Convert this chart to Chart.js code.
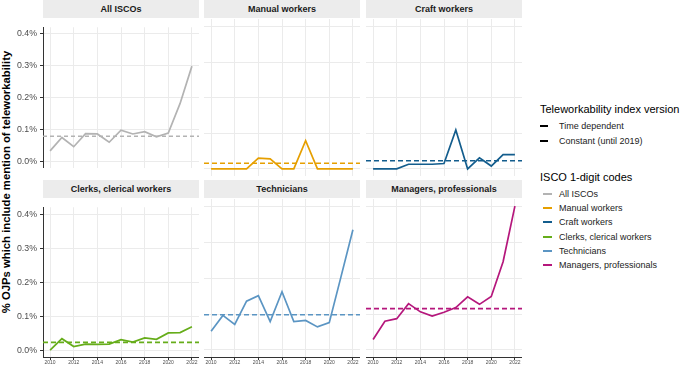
<!DOCTYPE html>
<html>
<head>
<meta charset="utf-8">
<script src="https://cdn.jsdelivr.net/npm/chart.js@4/dist/chart.umd.min.js"></script>
<style>
  body { margin: 0; width: 685px; height: 367px; position: relative; background: #fff; overflow: hidden;
         font-family: "Liberation Sans", Arial, sans-serif; }
  .box { position: absolute; }
  .strip { position: absolute; background: #ececec; color: #1a1a1a; font-weight: bold; font-size: 9px;
           text-align: center; height: 18px; line-height: 18px; white-space: nowrap; }
  #ytitle { position: absolute; left: 6px; top: 182px; transform: translate(-50%, -50%) rotate(-90deg);
            font-weight: bold; font-size: 11.3px; color: #000; white-space: nowrap; }
  .lt { position: absolute; left: 540px; font-size: 11px; color: #000; white-space: nowrap; line-height: 12px; }
  .li { position: absolute; left: 559px; font-size: 9px; color: #222; white-space: nowrap; line-height: 10px; }
  .key { position: absolute; height: 0; }
</style>
</head>
<body>
<div id="ytitle">% OJPs which include mention of teleworkability</div>

<script>
// data (% of OJPs)
var years = [2010, 2011, 2012, 2013, 2014, 2015, 2016, 2017, 2018, 2019, 2020, 2021, 2022];
var groups = ['All ISCOs', 'Manual workers', 'Craft workers', 'Clerks, clerical workers', 'Technicians', 'Managers, professionals'];
var colors = ['#b3b3b3', '#e69f00', '#135d8d', '#66ad1a', '#5b95c3', '#b5177c'];

var allIscos   = [0.033, 0.075, 0.046, 0.087, 0.086, 0.060, 0.098, 0.086, 0.093, 0.077, 0.089, 0.182, 0.299];
var manual     = [0, 0, 0, 0, 0.030, 0.028, 0, 0, 0.079, 0, 0, 0, 0];
var craft      = [0, 0, 0, 0.013, 0.013, 0.013, 0.015, 0.109, 0, 0.031, 0.008, 0.040, 0.040];
var clerks     = [0, 0.034, 0.011, 0.018, 0.017, 0.018, 0.031, 0.024, 0.036, 0.032, 0.051, 0.052, 0.069];
var technicians = [0.052, 0.096, 0.071, 0.136, 0.151, 0.079, 0.162, 0.079, 0.082, 0.064, 0.076, 0.205, 0.335];
var managers   = [0.029, 0.080, 0.087, 0.129, 0.106, 0.094, 0.105, 0.118, 0.148, 0.127, 0.149, 0.246, 0.401];
var series = [allIscos, manual, craft, clerks, technicians, managers];

// constant index (until 2019) levels
var constants = [0.079, 0.016, 0.023, 0.023, 0.098, 0.115];

var xTicks = [2010, 2012, 2014, 2016, 2018, 2020, 2022];
var yTicks = [0, 0.1, 0.2, 0.3, 0.4];
var xMin = 2009.4, xMax = 2022.6;
var yMin = -0.02, yMax = 0.421;

// panel geometry
var colLeft = [43, 204, 366];
var plotW = 156;
var rowTop = [19, 199];
var rowH = [157, 158];

groups.forEach(function(name, i) {
  var r = Math.floor(i / 3), c = i % 3;
  var left = c === 0 ? 0 : colLeft[c];
  var w = colLeft[c] + plotW - left;
  var h = rowH[r] + (r === 1 ? 10 : 0);

  var strip = document.createElement('div');
  strip.className = 'strip';
  strip.style.left = colLeft[c] + 'px';
  strip.style.top = (rowTop[r] - 19) + 'px';
  strip.style.width = plotW + 'px';
  strip.textContent = name;
  document.body.appendChild(strip);

  var box = document.createElement('div');
  box.className = 'box';
  box.style.left = left + 'px';
  box.style.top = rowTop[r] + 'px';
  box.style.width = w + 'px';
  box.style.height = h + 'px';
  var cv = document.createElement('canvas');
  box.appendChild(cv);
  document.body.appendChild(box);

  var vals = series[i];
  new Chart(cv.getContext('2d'), {
    type: 'line',
    data: {
      datasets: [{
        data: years.map(function(y, k) { return { x: y, y: vals[k] }; }),
        borderColor: colors[i],
        borderWidth: 1.7,
        pointRadius: 0,
        tension: 0
      }, {
        data: [{ x: xMin, y: constants[i] }, { x: xMax, y: constants[i] }],
        borderColor: colors[i],
        borderWidth: 1.6,
        borderDash: i === 0 ? [4, 3] : [5, 3],
        pointRadius: 0
      }]
    },
    options: {
      responsive: true,
      maintainAspectRatio: false,
      animation: false,
      layout: { padding: 0 },
      plugins: { legend: { display: false }, tooltip: { enabled: false } },
      scales: {
        x: {
          type: 'linear', min: xMin, max: xMax,
          afterBuildTicks: function(s) { s.ticks = xTicks.map(function(v) { return { value: v }; }); },
          afterFit: function(s) { s.height = r === 1 ? 10 : 0; },
          grid: { color: '#ebebeb', lineWidth: 1, drawTicks: r === 1, tickLength: 3, tickColor: '#333' },
          border: { display: r === 1, color: '#333', width: 1 },
          ticks: { display: r === 1, autoSkip: false, maxRotation: 0, padding: 0,
                   color: '#4d4d4d', font: { size: 5, family: 'Liberation Sans' },
                   callback: function(v) { return String(v); } }
        },
        y: {
          type: 'linear', min: yMin, max: yMax,
          afterBuildTicks: function(s) { s.ticks = yTicks.map(function(v) { return { value: v }; }); },
          afterFit: function(s) { s.width = c === 0 ? 43 : 0; },
          grid: { color: '#ebebeb', lineWidth: 1, drawTicks: c === 0, tickLength: 3, tickColor: '#333' },
          border: { display: c === 0, color: '#333', width: 1 },
          ticks: { display: c === 0, padding: 3, color: '#4d4d4d',
                   font: { size: 8.8, family: 'Liberation Sans' },
                   callback: function(v) { return v.toFixed(1) + '%'; } }
        }
      }
    }
  });
});

// legend (html)
function addText(cls, text, top) {
  var d = document.createElement('div');
  d.className = cls;
  d.style.top = top + 'px';
  d.textContent = text;
  document.body.appendChild(d);
}
function addKey(top, color, dashed, left, width) {
  var k = document.createElement('div');
  k.className = 'key';
  k.style.left = left + 'px';
  k.style.top = top + 'px';
  k.style.width = width + 'px';
  k.style.borderTop = (dashed ? '2px dashed ' : '2px solid ') + color;
  document.body.appendChild(k);
}
addText('lt', 'Teleworkability index version', 103);
addText('li', 'Time dependent', 121);
addKey(125, '#000', false, 540, 8);
addText('li', 'Constant (until 2019)', 136);
addKey(140, '#000', true, 540, 8);
addText('lt', 'ISCO 1-digit codes', 171);
var legTops = [194, 208, 222, 236.5, 251, 265];
groups.forEach(function(name, i) {
  addText('li', name, legTops[i] - 5);
  addKey(legTops[i] - 1, colors[i], false, 543, 9);
});
</script>
</body>
</html>
